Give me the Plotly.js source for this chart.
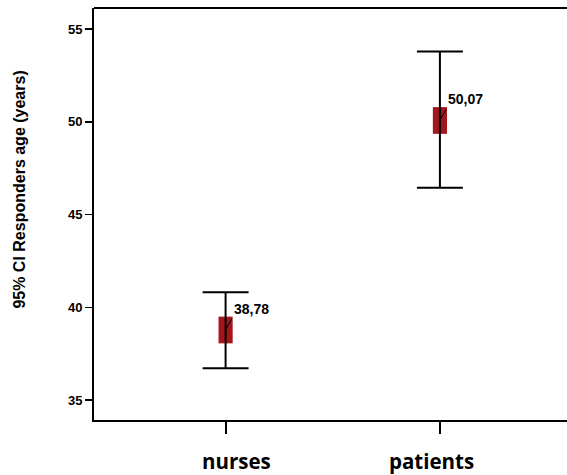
<!DOCTYPE html>
<html><head><meta charset="utf-8">
<script src="https://cdn.plot.ly/plotly-3.0.1.min.js"></script>
<style>html,body{margin:0;padding:0;background:#fff;}#chart{width:567px;height:475px;}</style>
</head><body><div id="chart"></div>
<script>
const categories = ["nurses", "patients"];
const means = [38.78, 50.07];
const upperCI = [40.81, 53.78];
const lowerCI = [36.72, 46.44];
const boxHalf = [0.72, 0.72];
const yTicks = [35, 40, 45, 50, 55];
const yTitle = "95% CI Responders age (years)";

const labels = means.map(m => m.toFixed(2).replace('.', ','));
const catShift = [11, -8];

const boxTrace = {
  type: 'bar',
  x: categories,
  base: means.map((m, i) => m - boxHalf[i]),
  y: boxHalf.map(h => 2 * h),
  width: 0.066,
  marker: {color: '#A3161C', line: {width: 0}},
  hoverinfo: 'skip'
};
const errTrace = {
  type: 'scatter',
  mode: 'markers',
  x: categories,
  y: means,
  marker: {size: 1, color: 'rgba(0,0,0,0)'},
  error_y: {
    type: 'data', symmetric: false,
    array: upperCI.map((u, i) => u - means[i]),
    arrayminus: lowerCI.map((l, i) => means[i] - l),
    color: '#000', thickness: 2, width: 23
  }
};

const annotations = categories.map((c, i) => ({
  x: c, y: means[i], xref: 'x', yref: 'y',
  text: '<b>' + labels[i] + '</b>',
  showarrow: true, arrowhead: 0, arrowwidth: 1, arrowcolor: '#000',
  ax: 6, ay: -11, standoff: 0,
  xanchor: 'left', yanchor: 'bottom',
  font: {family: 'Liberation Sans, Arial, sans-serif', size: 14, color: '#000'}
}));
categories.forEach((c, i) => annotations.push({
  x: c, y: 0, xref: 'x', yref: 'paper',
  text: '<b>' + c + '</b>', showarrow: false,
  xanchor: 'center', yanchor: 'middle', xshift: catShift[i], yshift: -41,
  font: {family: 'Open Sans, sans-serif', size: 20.5, color: '#000'}
}));
annotations.push({
  x: -0.1575, y: 0.558, xref: 'paper', yref: 'paper',
  text: '<b>' + yTitle + '</b>', showarrow: false, textangle: -90,
  xanchor: 'center', yanchor: 'middle',
  font: {family: 'Liberation Sans, Arial, sans-serif', size: 16, color: '#000'}
});

const layout = {
  width: 567, height: 475,
  margin: {l: 94, r: 0, t: 8, b: 55},
  paper_bgcolor: '#fff', plot_bgcolor: '#fff',
  showlegend: false,
  barmode: 'overlay',
  xaxis: {
    type: 'category', range: [-0.614, 1.593],
    showline: true, linecolor: '#000', linewidth: 2,
    showgrid: false, zeroline: false, showticklabels: false,
    ticks: 'outside', ticklen: 12, tickwidth: 2, tickcolor: '#000'
  },
  yaxis: {
    range: [33.93, 56.13],
    tickvals: yTicks,
    showline: true, linecolor: '#000', linewidth: 2,
    showgrid: false, zeroline: false,
    ticks: 'outside', ticklen: 7, tickwidth: 1.5, tickcolor: '#000',
    ticklabelstandoff: 0,
    tickfont: {family: 'Liberation Sans, Arial, sans-serif', size: 13, color: '#000', weight: 'bold'}
  },
  shapes: [{type: 'line', xref: 'paper', yref: 'paper', x0: 0, x1: 1, y0: 1, y1: 1,
    line: {color: '#000', width: 2}}],
  annotations: annotations
};

Plotly.newPlot('chart', [boxTrace, errTrace], layout, {staticPlot: true, displayModeBar: false});
</script></body></html>
